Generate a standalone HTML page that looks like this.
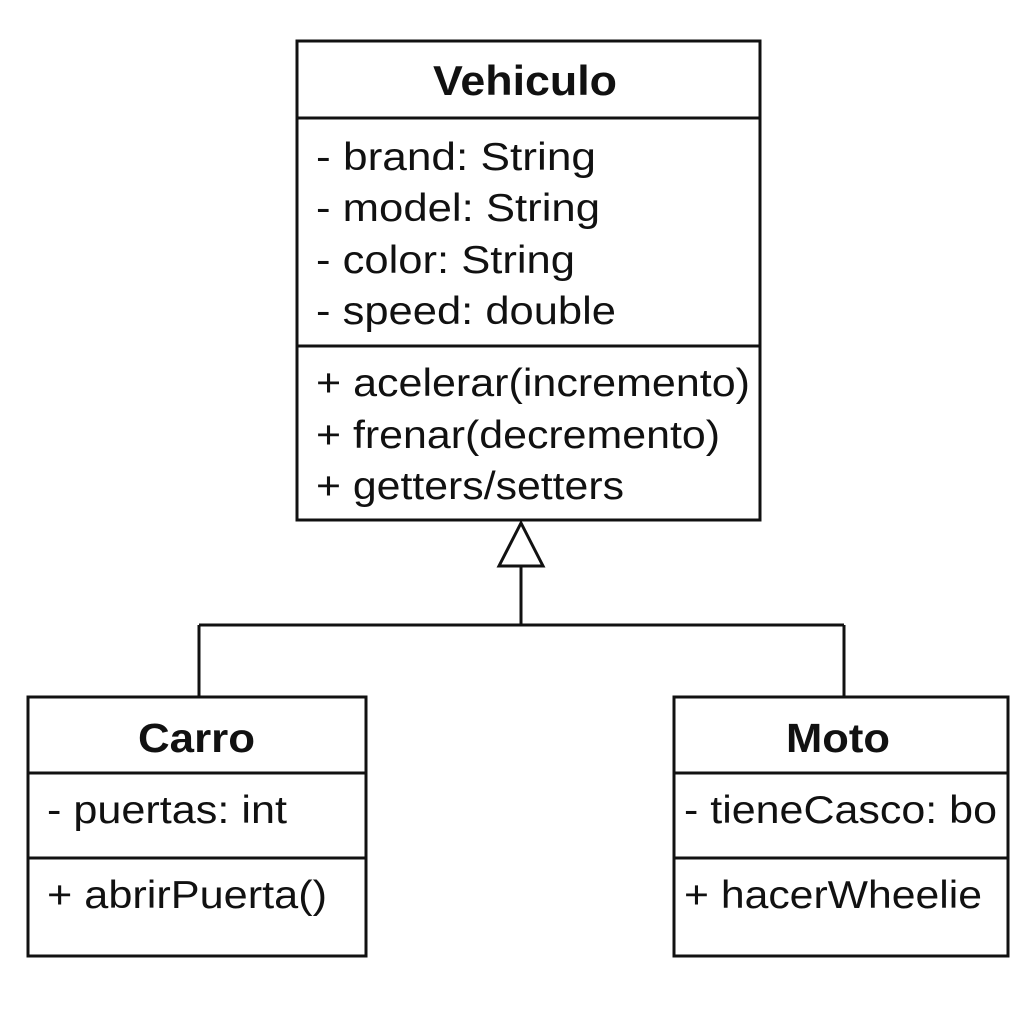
<!DOCTYPE html>
<html><head><meta charset="utf-8"><style>html,body{margin:0;padding:0;background:#fff}</style></head>
<body>
<svg width="1024" height="1024" viewBox="0 0 1024 1024" xmlns="http://www.w3.org/2000/svg" font-family="Liberation Sans, Arial, sans-serif" fill="#000">
<rect width="1024" height="1024" fill="#fff"/>
<g stroke="#111" stroke-width="3" fill="none">
<rect x="297" y="41" width="463" height="479"/>
<line x1="297" y1="118" x2="760" y2="118"/>
<line x1="297" y1="346" x2="760" y2="346"/>
<polygon points="521,523 499,566 543,566" fill="#fff"/>
<line x1="521" y1="566" x2="521" y2="625"/>
<line x1="199" y1="625" x2="844" y2="625"/>
<line x1="199" y1="625" x2="199" y2="697"/>
<line x1="844" y1="625" x2="844" y2="697"/>
<rect x="28" y="697" width="338" height="259"/>
<line x1="28" y1="773" x2="366" y2="773"/>
<line x1="28" y1="858" x2="366" y2="858"/>
<rect x="674" y="697" width="334" height="259"/>
<line x1="674" y1="773" x2="1008" y2="773"/>
<line x1="674" y1="858" x2="1008" y2="858"/>
</g>
<g font-size="39" fill="#111">
<text x="433" y="95" font-weight="bold" font-size="42" textLength="184" lengthAdjust="spacingAndGlyphs">Vehiculo</text>
<text x="316" y="170" textLength="280" lengthAdjust="spacingAndGlyphs">- brand: String</text>
<text x="316" y="221" textLength="284" lengthAdjust="spacingAndGlyphs">- model: String</text>
<text x="316" y="273" textLength="259" lengthAdjust="spacingAndGlyphs">- color: String</text>
<text x="316" y="324" textLength="300" lengthAdjust="spacingAndGlyphs">- speed: double</text>
<text x="316" y="396" textLength="434" lengthAdjust="spacingAndGlyphs">+ acelerar(incremento)</text>
<text x="316" y="448" textLength="404" lengthAdjust="spacingAndGlyphs">+ frenar(decremento)</text>
<text x="316" y="499" textLength="308" lengthAdjust="spacingAndGlyphs">+ getters/setters</text>
<text x="138" y="752" font-weight="bold" font-size="41" textLength="117" lengthAdjust="spacingAndGlyphs">Carro</text>
<text x="47" y="823" textLength="240" lengthAdjust="spacingAndGlyphs">- puertas: int</text>
<text x="47" y="908" textLength="280" lengthAdjust="spacingAndGlyphs">+ abrirPuerta()</text>
<text x="786" y="752" font-weight="bold" font-size="41" textLength="104" lengthAdjust="spacingAndGlyphs">Moto</text>
<text x="684" y="823" textLength="313" lengthAdjust="spacingAndGlyphs">- tieneCasco: bo</text>
<text x="684" y="908" textLength="298" lengthAdjust="spacingAndGlyphs">+ hacerWheelie</text>
</g>
</svg>
</body></html>
